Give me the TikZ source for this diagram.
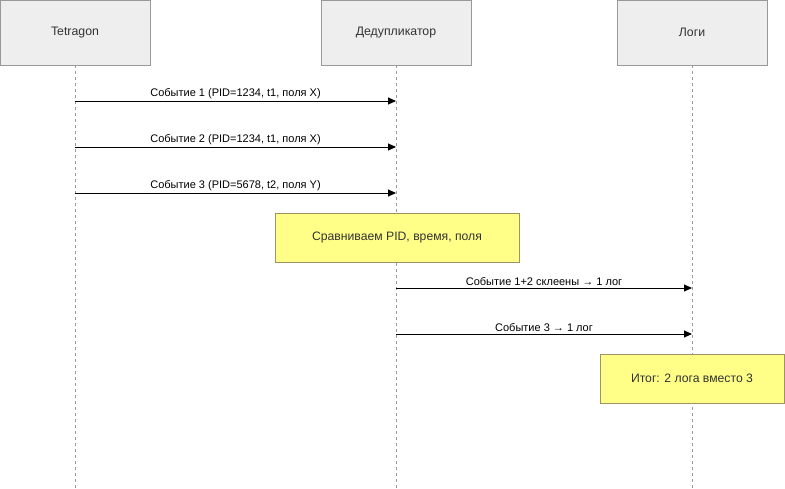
\documentclass[tikz,border=0pt]{standalone}
\usepackage{fontspec}
\setmainfont{Liberation Sans}
\usetikzlibrary{arrows.meta}
\definecolor{hdrfill}{HTML}{EEEEEE}
\definecolor{hdrline}{HTML}{999999}
\definecolor{notefill}{HTML}{FFFF88}
\definecolor{noteline}{HTML}{9F9364}
\definecolor{txt}{HTML}{333333}
\begin{document}
\begin{tikzpicture}[x=1pt,y=-1pt,
  hdr/.style={draw=hdrline,fill=hdrfill,line width=0.8pt,minimum width=150pt,minimum height=65pt,inner sep=0pt,text=txt,font=\fontsize{12.3}{14}\selectfont},
  note/.style={draw=noteline,fill=notefill,line width=0.8pt,inner sep=0pt,text=txt,font=\fontsize{12.2}{14}\selectfont},
  life/.style={draw=hdrline,dash pattern=on 3pt off 3pt,line width=0.7pt},
  msg/.style={draw=black,line width=0.9pt,-{Triangle[length=8pt,width=7pt]}},
  lbl/.style={font=\fontsize{11}{13}\selectfont,text=black,above=1pt,inner sep=1pt}]
\useasboundingbox (0,0) rectangle (785,489);
\node[hdr] (t) at (75,32.5) {Tetragon};
\node[hdr] (d) at (396,32.5) {Дедупликатор};
\node[hdr] (l) at (692,32.5) {Логи};
\coordinate (tb) at (75,489);
\coordinate (db) at (396,489);
\coordinate (lb) at (692,489);
\draw[life] (t.south) -- (tb);
\draw[life] (d.south) -- (db);
\draw[life] (l.south) -- (lb);
% messages
\coordinate (a1) at (75,101); \coordinate (b1) at (396,101);
\coordinate (a2) at (75,147); \coordinate (b2) at (396,147);
\coordinate (a3) at (75,193); \coordinate (b3) at (396,193);
\coordinate (a4) at (396,288); \coordinate (b4) at (692,288);
\coordinate (a5) at (396,334); \coordinate (b5) at (692,334);
\draw[msg] (a1) -- node[lbl] {Событие 1 (PID=1234, t1, поля X)} (b1);
\draw[msg] (a2) -- node[lbl] {Событие 2 (PID=1234, t1, поля X)} (b2);
\draw[msg] (a3) -- node[lbl] {Событие 3 (PID=5678, t2, поля Y)} (b3);
\node[note,minimum width=244pt,minimum height=49pt] (n1) at (397,237.5) {Сравниваем PID, время, поля};
\draw[msg] (a4) -- node[lbl] {Событие 1+2 склеены → 1 лог} (b4);
\draw[msg] (a5) -- node[lbl] {Событие 3 → 1 лог} (b5);
\node[note,minimum width=184pt,minimum height=49pt] (n2) at (692,378.5) {Итог: 2 лога вместо 3};
\end{tikzpicture}
\end{document}
